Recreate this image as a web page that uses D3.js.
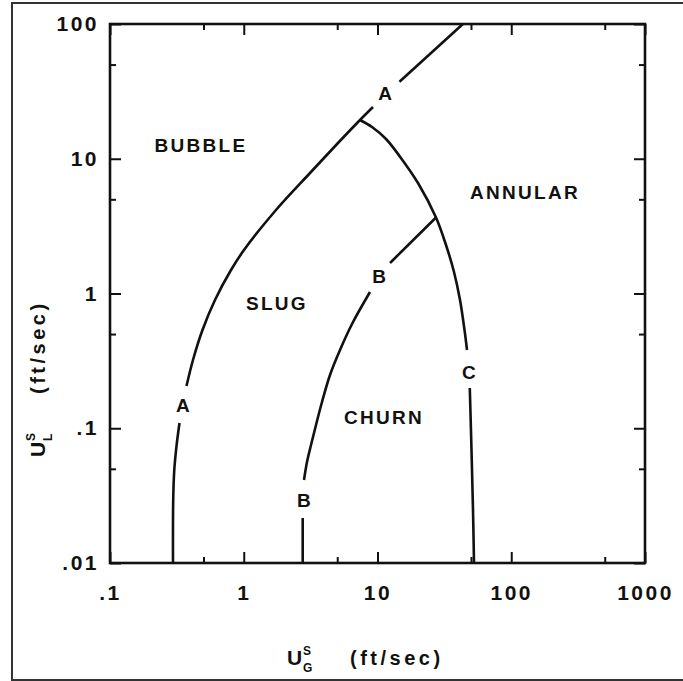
<!DOCTYPE html>
<html>
<head>
<meta charset="utf-8">
<script src="https://cdn.jsdelivr.net/npm/d3@7/dist/d3.min.js"></script>
<style>
  html, body { margin: 0; padding: 0; background: #fff; }
  svg { display: block; }
  text { font-family: "Liberation Sans", Arial, Helvetica, sans-serif; font-weight: bold; fill: #111; }
</style>
</head>
<body>
<svg id="chart" width="683" height="681"></svg>
<script>
// ---------- data ----------
const xMajorTicks = [0.1, 1, 10, 100, 1000];
const xTickLabels = [".1", "1", "10", "100", "1000"];
const xMinorTicks = [0.5, 5, 50, 500];
const yMajorTicks = [0.01, 0.1, 1, 10, 100];
const yTickLabels = [".01", ".1", "1", "10", "100"];
const yMinorTicks = [0.05, 0.5, 5, 50];

// boundary A (bubble/slug, then bubble/annular), split where the letter labels interrupt it
const curveA1 = [[0.2958, 0.01], [0.2969, 0.02935], [0.3024, 0.0490], [0.3142, 0.0738], [0.3308, 0.1094]];
const curveA2 = [[0.3733, 0.2059], [0.4173, 0.3210], [0.4914, 0.5359], [0.6095, 0.8951], [0.8030, 1.494],
                 [1.004, 2.102], [1.742, 4.166], [3.129, 7.839], [5.066, 13.09], [7.399, 19.39], [9.256, 24.21]];
const curveA3 = [[14.6, 37.3], [43.5, 100]];
// boundary B (slug/churn)
const curveB1 = [[2.759, 0.01], [2.759, 0.02158]];
const curveB2 = [[2.822, 0.0413], [2.971, 0.05616], [3.183, 0.0751], [3.469, 0.1057], [3.846, 0.1566],
                 [4.414, 0.2485], [5.244, 0.3808], [6.448, 0.594], [8.788, 1.026]];
const curveB3 = [[12.40, 1.684], [27.38, 3.664]];
// boundary C (to annular)
const curveC1 = [[7.399, 19.39], [9.097, 17.20], [11.58, 14.02], [14.73, 10.36], [20.08, 6.607],
                 [27.38, 3.664], [32.52, 2.290], [37.33, 1.444], [41.39, 0.8951], [44.73, 0.5359], [46.70, 0.3808]];
const curveC2 = [[48.98, 0.1989], [50.44, 0.0690], [51.76, 0.02473], [52.67, 0.01]];
const curves = [curveA1, curveA2, curveA3, curveB1, curveB2, curveB3, curveC1, curveC2];

const regionNames = ["BUBBLE", "SLUG", "ANNULAR", "CHURN"];
const regionX = [0.479, 1.77, 126.8, 11.2];
const regionY = [12.6, 0.851, 5.67, 0.121];
const curveLetters = ["A", "A", "B", "B", "C"];
const letterX = [0.351, 11.4, 10.3, 2.82, 48.3];
const letterY = [0.149, 30.8, 1.35, 0.0294, 0.261];

// ---------- drawing ----------
const svg = d3.select("#chart");
const L = 110, R = 645, T = 24, B = 563;
const x = d3.scaleLog().domain([0.1, 1000]).range([L, R]);
const y = d3.scaleLog().domain([0.01, 100]).range([B, T]);

// outer border
svg.append("rect").attr("x", 12).attr("y", 3).attr("width", 690).attr("height", 677)
  .attr("fill", "none").attr("stroke", "#333").attr("stroke-width", 2);

function styleAxis(g) {
  g.select(".domain").remove();
  g.selectAll("line").attr("stroke", "#111").attr("stroke-width", 2);
}
function styleLabels(g) {
  g.selectAll("text").attr("font-size", 21).attr("letter-spacing", 2.5)
    .attr("fill", "#111").attr("font-family", null);
}

const MAJ = 11, MIN = 6;
// bottom
svg.append("g").attr("transform", `translate(0,${B})`)
  .call(d3.axisBottom(x).tickValues(xMajorTicks).tickSizeInner(-MAJ).tickSizeOuter(0)
    .tickPadding(22).tickFormat((d, i) => xTickLabels[i]))
  .call(styleAxis).call(styleLabels);
svg.append("g").attr("transform", `translate(0,${B})`)
  .call(d3.axisBottom(x).tickValues(xMinorTicks).tickSizeInner(-MIN).tickSizeOuter(0).tickFormat(""))
  .call(styleAxis);
// top
svg.append("g").attr("transform", `translate(0,${T})`)
  .call(d3.axisTop(x).tickValues(xMajorTicks).tickSizeInner(-MAJ).tickSizeOuter(0).tickFormat(""))
  .call(styleAxis);
svg.append("g").attr("transform", `translate(0,${T})`)
  .call(d3.axisTop(x).tickValues(xMinorTicks).tickSizeInner(-MIN).tickSizeOuter(0).tickFormat(""))
  .call(styleAxis);
// left
svg.append("g").attr("transform", `translate(${L},0)`)
  .call(d3.axisLeft(y).tickValues(yMajorTicks).tickSizeInner(-MAJ).tickSizeOuter(0)
    .tickPadding(11).tickFormat((d, i) => yTickLabels[i]))
  .call(styleAxis).call(styleLabels);
svg.append("g").attr("transform", `translate(${L},0)`)
  .call(d3.axisLeft(y).tickValues(yMinorTicks).tickSizeInner(-MIN).tickSizeOuter(0).tickFormat(""))
  .call(styleAxis);
// right
svg.append("g").attr("transform", `translate(${R},0)`)
  .call(d3.axisRight(y).tickValues(yMajorTicks).tickSizeInner(-MAJ).tickSizeOuter(0).tickFormat(""))
  .call(styleAxis);
svg.append("g").attr("transform", `translate(${R},0)`)
  .call(d3.axisRight(y).tickValues(yMinorTicks).tickSizeInner(-MIN).tickSizeOuter(0).tickFormat(""))
  .call(styleAxis);

// frame
svg.append("rect").attr("x", L).attr("y", T).attr("width", R - L).attr("height", B - T)
  .attr("fill", "none").attr("stroke", "#111").attr("stroke-width", 2.6);

// curves
const line = d3.line().x(d => x(d[0])).y(d => y(d[1])).curve(d3.curveCatmullRom.alpha(0.5));
svg.append("g").selectAll("path").data(curves).join("path")
  .attr("d", line).attr("fill", "none").attr("stroke", "#111").attr("stroke-width", 2.6)
  .attr("stroke-linecap", "butt");

// region labels
svg.append("g").selectAll("text").data(regionNames).join("text")
  .attr("x", (d, i) => x(regionX[i])).attr("y", (d, i) => y(regionY[i]))
  .attr("dy", "0.35em").attr("text-anchor", "middle")
  .attr("font-size", 19).attr("letter-spacing", 2.3)
  .text(d => d);

// curve letters
svg.append("g").selectAll("text").data(curveLetters).join("text")
  .attr("x", (d, i) => x(letterX[i])).attr("y", (d, i) => y(letterY[i]))
  .attr("dy", "0.35em").attr("text-anchor", "middle")
  .attr("font-size", 19)
  .text(d => d);

// axis titles
function title(g, sub) {
  g.append("text").attr("x", 0).attr("y", 0).attr("font-size", 21).text("U");
  g.append("text").attr("x", 16).attr("y", -10).attr("font-size", 12).text("S");
  g.append("text").attr("x", 16).attr("y", 7).attr("font-size", 12).text(sub);
  g.append("text").attr("x", 63).attr("y", 0).attr("font-size", 20).attr("letter-spacing", 3.5).text("(ft/sec)");
}
title(svg.append("g").attr("transform", "translate(287,665)"), "G");
title(svg.append("g").attr("transform", "translate(45,457) rotate(-90)"), "L");
</script>
</body>
</html>
